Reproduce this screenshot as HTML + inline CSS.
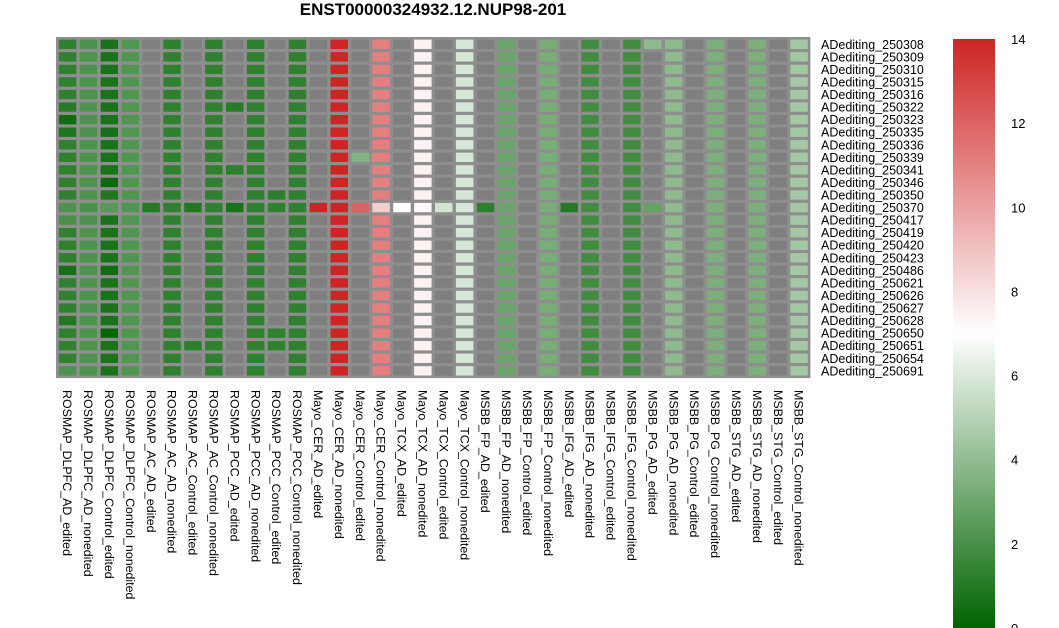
<!DOCTYPE html>
<html><head><meta charset="utf-8">
<style>
html,body{margin:0;padding:0;background:#fff;}
svg{display:block;font-family:"Liberation Sans",sans-serif;}
</style></head>
<body>
<svg id="chart" width="1059" height="628" viewBox="0 0 1059 628">
<defs>
<linearGradient id="cbar" x1="0" y1="0" x2="0" y2="1">
<stop offset="0" stop-color="#cf2424"/>
<stop offset="0.5" stop-color="#ffffff"/>
<stop offset="1" stop-color="#006400"/>
</linearGradient>
</defs>
<text x="433" y="15" text-anchor="middle" font-size="17" font-weight="bold" fill="#000">ENST00000324932.12.NUP98-201</text>
<g id="cells"></g>
<g id="rowlabels"></g>
<g id="collabels"></g>
<rect x="953" y="39" width="42" height="589" fill="url(#cbar)"/>
<g id="cbticks"></g>
</svg>
<script>
const rowNames = ["ADediting_250308","ADediting_250309","ADediting_250310","ADediting_250315","ADediting_250316","ADediting_250322","ADediting_250323","ADediting_250335","ADediting_250336","ADediting_250339","ADediting_250341","ADediting_250346","ADediting_250350","ADediting_250370","ADediting_250417","ADediting_250419","ADediting_250420","ADediting_250423","ADediting_250486","ADediting_250621","ADediting_250626","ADediting_250627","ADediting_250628","ADediting_250650","ADediting_250651","ADediting_250654","ADediting_250691"];
const colNames = ["ROSMAP_DLPFC_AD_edited","ROSMAP_DLPFC_AD_nonedited","ROSMAP_DLPFC_Control_edited","ROSMAP_DLPFC_Control_nonedited","ROSMAP_AC_AD_edited","ROSMAP_AC_AD_nonedited","ROSMAP_AC_Control_edited","ROSMAP_AC_Control_nonedited","ROSMAP_PCC_AD_edited","ROSMAP_PCC_AD_nonedited","ROSMAP_PCC_Control_edited","ROSMAP_PCC_Control_nonedited","Mayo_CER_AD_edited","Mayo_CER_AD_nonedited","Mayo_CER_Control_edited","Mayo_CER_Control_nonedited","Mayo_TCX_AD_edited","Mayo_TCX_AD_nonedited","Mayo_TCX_Control_edited","Mayo_TCX_Control_nonedited","MSBB_FP_AD_edited","MSBB_FP_AD_nonedited","MSBB_FP_Control_edited","MSBB_FP_Control_nonedited","MSBB_IFG_AD_edited","MSBB_IFG_AD_nonedited","MSBB_IFG_Control_edited","MSBB_IFG_Control_nonedited","MSBB_PG_AD_edited","MSBB_PG_AD_nonedited","MSBB_PG_Control_edited","MSBB_PG_Control_nonedited","MSBB_STG_AD_edited","MSBB_STG_AD_nonedited","MSBB_STG_Control_edited","MSBB_STG_Control_nonedited"];
// typical value per column (null = NA)
const baseValues = [1.3,2.1,0.7,2.2,null,1.3,null,1.3,null,1.3,null,1.3,null,14,null,11.1,null,7.4,null,5.9,null,2.9,null,3.3,null,1.8,null,1.8,null,3.9,null,3.4,null,3.4,null,4.5];
// row 13 (ADediting_250370) values
const row370 = [2.1,2.0,2.4,2.2,1.0,1.3,0.9,1.3,0.7,1.3,1.3,1.3,14,14,12,8.6,7,7.3,5.8,5.9,1.2,2.9,null,3.3,1.0,1.8,null,1.8,2.8,3.9,null,3.4,null,3.4,null,4.5];
// overrides: [row, col, value]
const overrides = [[0,28,3.9],[5,8,1.1],[5,0,1.1],[6,0,0.4],[7,0,0.8],[7,2,0.6],[9,14,3.6],[10,8,1.2],[11,2,0.3],[12,10,1.2],[12,2,0.9],[18,0,0.6],[18,2,0.4],[23,2,0.1],[23,10,1.3],[24,6,1.2],[24,10,1.3],[22,0,0.9],[26,0,2.1],[14,0,2.0],[14,2,0.7]];

const X0=57, Y0=38, CW=20.9, RH=12.56, VMAX=14;
function mix(a,b,t){return a.map((v,i)=>Math.round(v+(b[i]-v)*t));}
function colorOf(v){
  if(v===null) return "#7f7f7f";
  let c;
  if(v<=7) c=mix([0,100,0],[255,255,255],v/7); else c=mix([255,255,255],[207,36,36],(v-7)/7);
  return "rgb("+c.join(",")+")";
}
const xPos = i => X0 + i*CW;
const yPos = j => Y0 + j*RH;
const NS="http://www.w3.org/2000/svg";
const cells=document.getElementById("cells");
const frame=document.createElementNS(NS,"rect");
frame.setAttribute("x",X0-1);frame.setAttribute("y",Y0-1);
frame.setAttribute("width",CW*colNames.length+2);frame.setAttribute("height",RH*rowNames.length+2);
frame.setAttribute("fill","#8e8e8e");


cells.appendChild(frame);
const matrix = rowNames.map((r,j)=> j===13 ? row370.slice() : baseValues.slice());
overrides.forEach(o=>{matrix[o[0]][o[1]]=o[2];});
matrix.forEach((row,j)=>row.forEach((v,i)=>{
  const r=document.createElementNS(NS,"rect");
  r.setAttribute("x",(xPos(i)+1.8).toFixed(2));
  r.setAttribute("y",(yPos(j)+1.6).toFixed(2));
  r.setAttribute("width",(CW-3.4).toFixed(2));
  r.setAttribute("height",(RH-3.2).toFixed(2));
  r.setAttribute("fill",colorOf(v));
  
  
  cells.appendChild(r);
}));
const rl=document.getElementById("rowlabels");
rowNames.forEach((n,j)=>{
  const t=document.createElementNS(NS,"text");
  t.setAttribute("x",821);t.setAttribute("y",(yPos(j)+RH/2+4.5).toFixed(1));
  t.setAttribute("font-size","12.5");t.textContent=n;
  
  
  rl.appendChild(t);
});
const cl=document.getElementById("collabels");
colNames.forEach((n,i)=>{
  const t=document.createElementNS(NS,"text");
  const x=xPos(i)+CW/2-4.3, y=390;
  t.setAttribute("x",x);t.setAttribute("y",y);
  t.setAttribute("transform","rotate(90 "+x+" "+y+")");
  t.setAttribute("font-size","12.4");t.textContent=n;
  
  
  cl.appendChild(t);
});
const tickLabels=[0,2,4,6,8,10,12,14];
const cb=document.getElementById("cbticks");
tickLabels.forEach(v=>{
  const t=document.createElementNS(NS,"text");
  t.setAttribute("x",1011);
  t.setAttribute("y",(628-(v/VMAX)*589+5).toFixed(1));
  t.setAttribute("font-size","13");t.textContent=v;
  
  
  cb.appendChild(t);
});
</script>
</body></html>
